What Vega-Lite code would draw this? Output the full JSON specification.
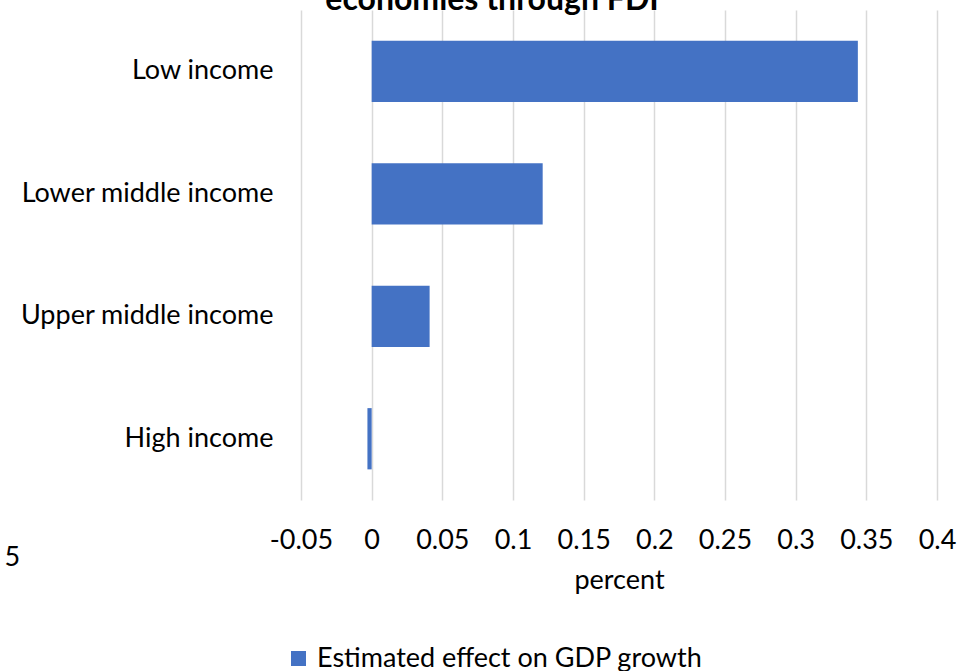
{
  "$schema": "https://vega.github.io/schema/vega-lite/v6.json",
  "width": 636,
  "height": 490,
  "autosize": "none",
  "padding": {"left": 301, "top": 10, "right": 27, "bottom": 171},
  "background": "white",
  "title": {
    "text": "economies through FDI",
    "fontSize": 32,
    "fontWeight": "bold",
    "font": "Lato",
    "color": "#000000",
    "anchor": "middle",
    "frame": "group",
    "dx": -127,
    "dy": 32,
    "offset": 0,
    "baseline": "alphabetic"
  },
  "data": {
    "values": [
      {"group": "Low income", "value": 0.344, "series": "Estimated effect on GDP growth"},
      {"group": "Lower middle income", "value": 0.121, "series": "Estimated effect on GDP growth"},
      {"group": "Upper middle income", "value": 0.041, "series": "Estimated effect on GDP growth"},
      {"group": "High income", "value": -0.003, "series": "Estimated effect on GDP growth"}
    ]
  },
  "mark": {"type": "bar"},
  "encoding": {
    "y": {
      "field": "group",
      "type": "nominal",
      "sort": null,
      "scale": {"paddingInner": 0.5, "paddingOuter": 0.25},
      "axis": {
        "title": "5",
        "titleAngle": 0,
        "titleAlign": "left",
        "titleBaseline": "alphabetic",
        "titleX": -297,
        "titleY": 555,
        "titleFont": "Lato",
        "titleFontSize": 27,
        "titleFontWeight": "normal",
        "titleColor": "#000000",
        "domain": false,
        "ticks": false,
        "labelPadding": 28,
        "labelFont": "Lato",
        "labelFontSize": 27,
        "labelColor": "#000000",
        "labelLimit": 400
      }
    },
    "x": {
      "field": "value",
      "type": "quantitative",
      "scale": {"domain": [-0.05, 0.4], "nice": false, "zero": false},
      "axis": {
        "values": [-0.05, 0, 0.05, 0.1, 0.15, 0.2, 0.25, 0.3, 0.35, 0.4],
        "labelExpr": "datum.value",
        "title": "percent",
        "domain": false,
        "ticks": false,
        "grid": true,
        "gridColor": "#d9d9d9",
        "gridWidth": 1.5,
        "labelPadding": 27,
        "labelFont": "Lato",
        "labelFontSize": 27,
        "labelColor": "#000000",
        "labelFlush": false,
        "labelOverlap": false,
        "titleFont": "Lato",
        "titleFontSize": 27,
        "titleFontWeight": "normal",
        "titleColor": "#000000",
        "titlePadding": 14
      }
    },
    "color": {
      "field": "series",
      "type": "nominal",
      "scale": {"range": ["#4472C4"]},
      "legend": {
        "title": null,
        "orient": "none",
        "legendX": -16,
        "legendY": 635,
        "symbolType": "square",
        "symbolSize": 225,
        "symbolStrokeWidth": 0,
        "labelFont": "Lato",
        "labelFontSize": 27,
        "labelColor": "#000000",
        "labelOffset": 5,
        "labelLimit": 500
      }
    }
  },
  "config": {"view": {"stroke": null}}
}
